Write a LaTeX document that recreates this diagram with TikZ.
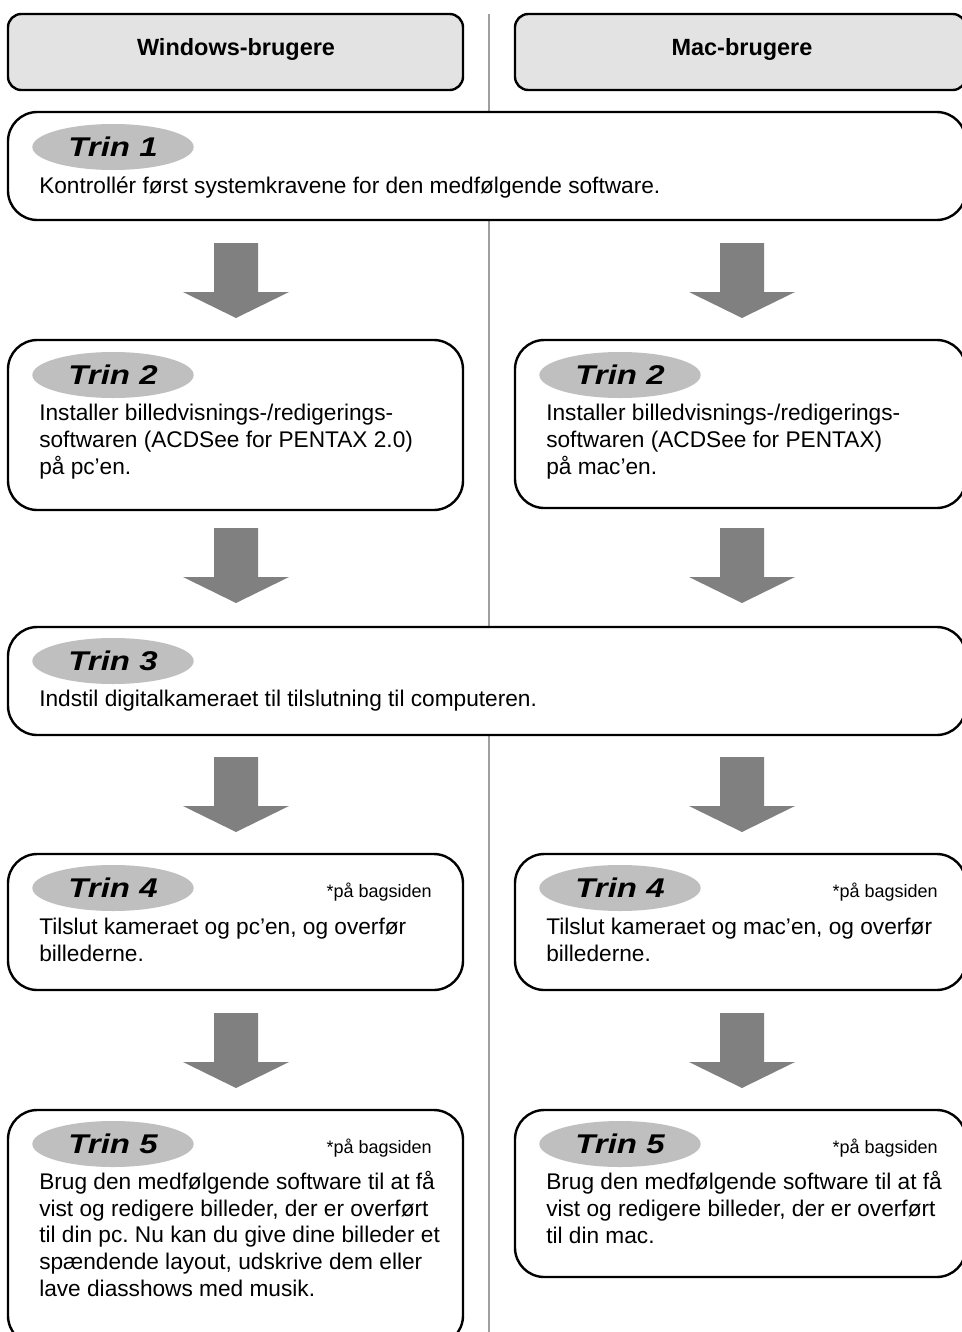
\documentclass[tikz,border=0pt]{standalone}
\usepackage{fontspec}
\setmainfont{Liberation Sans}
\newfontfamily\trinfont[FakeStretch=1.22]{Liberation Sans}
\usetikzlibrary{shapes.geometric}
\frenchspacing

% block arrow: x of the middle, y of the top
\newcommand{\pil}[2]{%
  \fill[pilfill] (#1-22,#2) -- (#1+22,#2) -- (#1+22,#2+49) -- (#1+53,#2+49)
    -- (#1,#2+75) -- (#1-53,#2+49) -- (#1-22,#2+49) -- cycle;}

\begin{document}
\begin{tikzpicture}[x=0.75pt,y=-0.75pt]

    \tikzset{
      headbox/.style={draw,line width=1.8pt,fill=gray!22,rounded corners=10pt},
      stepbox/.style={draw,line width=1.8pt,fill=white,rounded corners=22pt},
      trin/.style={ellipse,fill=gray!50,minimum width=121pt,minimum height=34.5pt,inner sep=0pt,
                   font=\trinfont\fontsize{20.3}{21}\selectfont\bfseries\itshape},
      % base = last line
      body/.style={anchor=base west,align=left,inner sep=0pt,font=\fontsize{17}{19.9}\selectfont},
      note/.style={anchor=base east,inner sep=0pt,font=\fontsize{13.5}{15}\selectfont},
      head/.style={font=\fontsize{17.6}{19}\selectfont\bfseries},
      pilfill/.style={fill=gray}
    }

    \useasboundingbox (0,0) rectangle (962,1332);
    \clip (0,0) rectangle (962,1332);

    % skillelinje
    \draw[gray!75,line width=0.8pt] (489,14) -- (489,1340);

    % overskrifter
    \draw[headbox] (8,14) rectangle (463,90);
    \draw[headbox] (515,14) rectangle (966,90);
    \node[head] (hw) at (236,49) {Windows-brugere};
    \node[head] (hm) at (742,49) {Mac-brugere};

    % Trin 1
    \draw[stepbox] (8,112) rectangle (966,220);
    \node[trin] (e1) at (113,147) {Trin 1};
    \node[body] (t1) at (39,193) {Kontrollér først systemkravene for den medfølgende software.};

    \pil{236}{243}
    \pil{742}{243}

    % Trin 2
    \draw[stepbox] (8,340) rectangle (463,510);
    \draw[stepbox] (515,340) rectangle (966,508);
    \node[trin] (e2w) at (113,375) {Trin 2};
    \node[trin] (e2m) at (620,375) {Trin 2};
    \node[body] (t2w) at (39,474) {Installer billedvisnings-/redigerings-\\softwaren (ACDSee for PENTAX 2.0)\\på pc’en.};
    \node[body] (t2m) at (546,474) {Installer billedvisnings-/redigerings-\\softwaren (ACDSee for PENTAX)\\på mac’en.};

    \pil{236}{528}
    \pil{742}{528}

    % Trin 3
    \draw[stepbox] (8,627) rectangle (966,735);
    \node[trin] (e3) at (113,661) {Trin 3};
    \node[body] (t3) at (39,706) {Indstil digitalkameraet til tilslutning til computeren.};

    \pil{236}{757}
    \pil{742}{757}

    % Trin 4
    \draw[stepbox] (8,854) rectangle (463,990);
    \draw[stepbox] (515,854) rectangle (966,990);
    \node[trin] (e4w) at (113,888) {Trin 4};
    \node[trin] (e4m) at (620,888) {Trin 4};
    \node[note] (n4w) at (432,897) {*på bagsiden};
    \node[note] (n4m) at (938,897) {*på bagsiden};
    \node[body] (t4w) at (39,961) {Tilslut kameraet og pc’en, og overfør\\billederne.};
    \node[body] (t4m) at (546,961) {Tilslut kameraet og mac’en, og overfør\\billederne.};

    \pil{236}{1013}
    \pil{742}{1013}

    % Trin 5
    \draw[stepbox] (8,1110) rectangle (463,1345);
    \draw[stepbox] (515,1110) rectangle (966,1277);
    \node[trin] (e5w) at (113,1144) {Trin 5};
    \node[trin] (e5m) at (620,1144) {Trin 5};
    \node[note] (n5w) at (432,1153) {*på bagsiden};
    \node[note] (n5m) at (938,1153) {*på bagsiden};
    \node[body] (t5w) at (39,1296) {Brug den medfølgende software til at få\\vist og redigere billeder, der er overført\\til din pc. Nu kan du give dine billeder et\\spændende layout, udskrive dem eller\\lave diasshows med musik.};
    \node[body] (t5m) at (546,1243) {Brug den medfølgende software til at få\\vist og redigere billeder, der er overført\\til din mac.};

\end{tikzpicture}
\end{document}
